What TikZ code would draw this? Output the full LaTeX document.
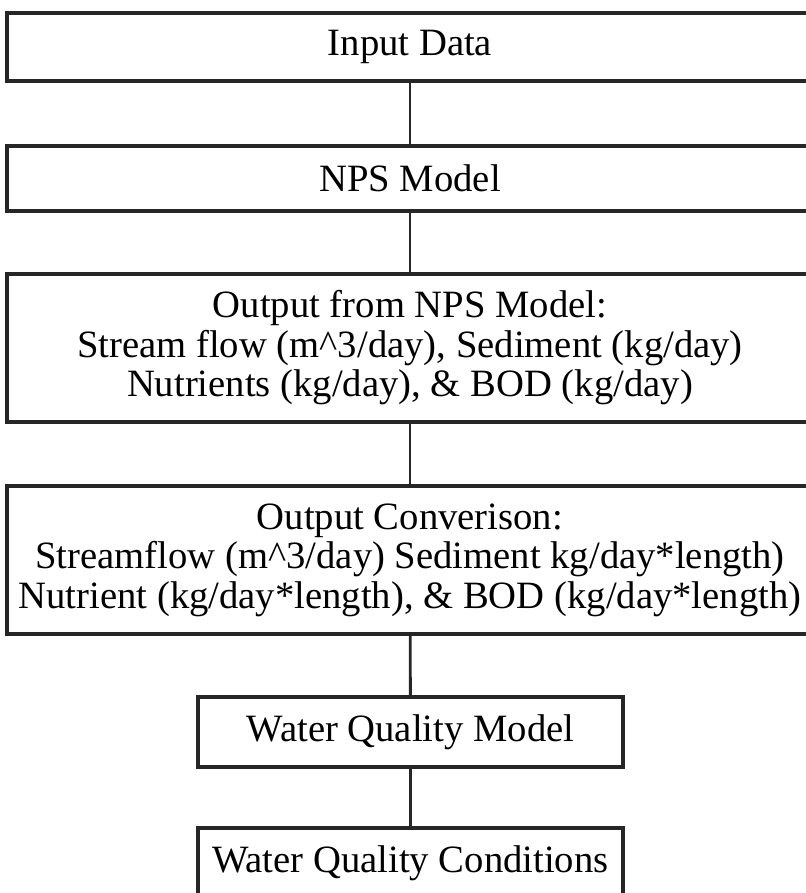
\documentclass[tikz,border=0pt]{standalone}
\usepackage{fontspec}
\setmainfont{Liberation Serif}
\usepackage{tikz}
\usetikzlibrary{positioning,calc}

\begin{document}
\begin{tikzpicture}[
    stage/.style={draw=black!85,line width=2.4pt,rectangle,inner sep=0pt,
      align=center,font=\fontsize{22}{22.5}\selectfont},
    wide/.style={stage,minimum width=16.12cm},
    narrow/.style={stage,minimum width=8.5cm,minimum height=1.4cm},
    link/.style={draw=black!85,line width=1.6pt}
  ]
      \useasboundingbox (0,0) rectangle (16.12,-17.86);
      % Model chain
      \node[wide,minimum height=1.36cm] (input) at (8.2,-0.94) {Input Data};
      \node[wide,minimum height=1.3cm] (nps) at (8.2,-3.57) {NPS Model};
      \node[wide,minimum height=2.96cm] (npsout) at (8.2,-6.96)
        {Output from NPS Model:\\
         Stream flow (m\^{}3/day), Sediment (kg/day)\\
         Nutrients (kg/day), \& BOD (kg/day)};
      \node[wide,minimum height=2.96cm] (conv) at (8.2,-11.2)
        {Output Converison:\\
         Streamflow (m\^{}3/day) Sediment kg/day*length)\\
         Nutrient (kg/day*length), \& BOD (kg/day*length)};
      \node[narrow] (wqmodel) at (8.21,-14.64) {Water Quality Model};
      \node[narrow] (wqcond) at (8.21,-17.26) {Water Quality Conditions};
      % Connectors
      \draw[link] (input) -- (nps);
      \draw[link] (nps) -- (npsout);
      \draw[link] (npsout) -- (conv);
      \draw[link] (conv) -- (wqmodel);
      \draw[link] (wqmodel) -- (wqcond);
    \end{tikzpicture}
\end{document}
